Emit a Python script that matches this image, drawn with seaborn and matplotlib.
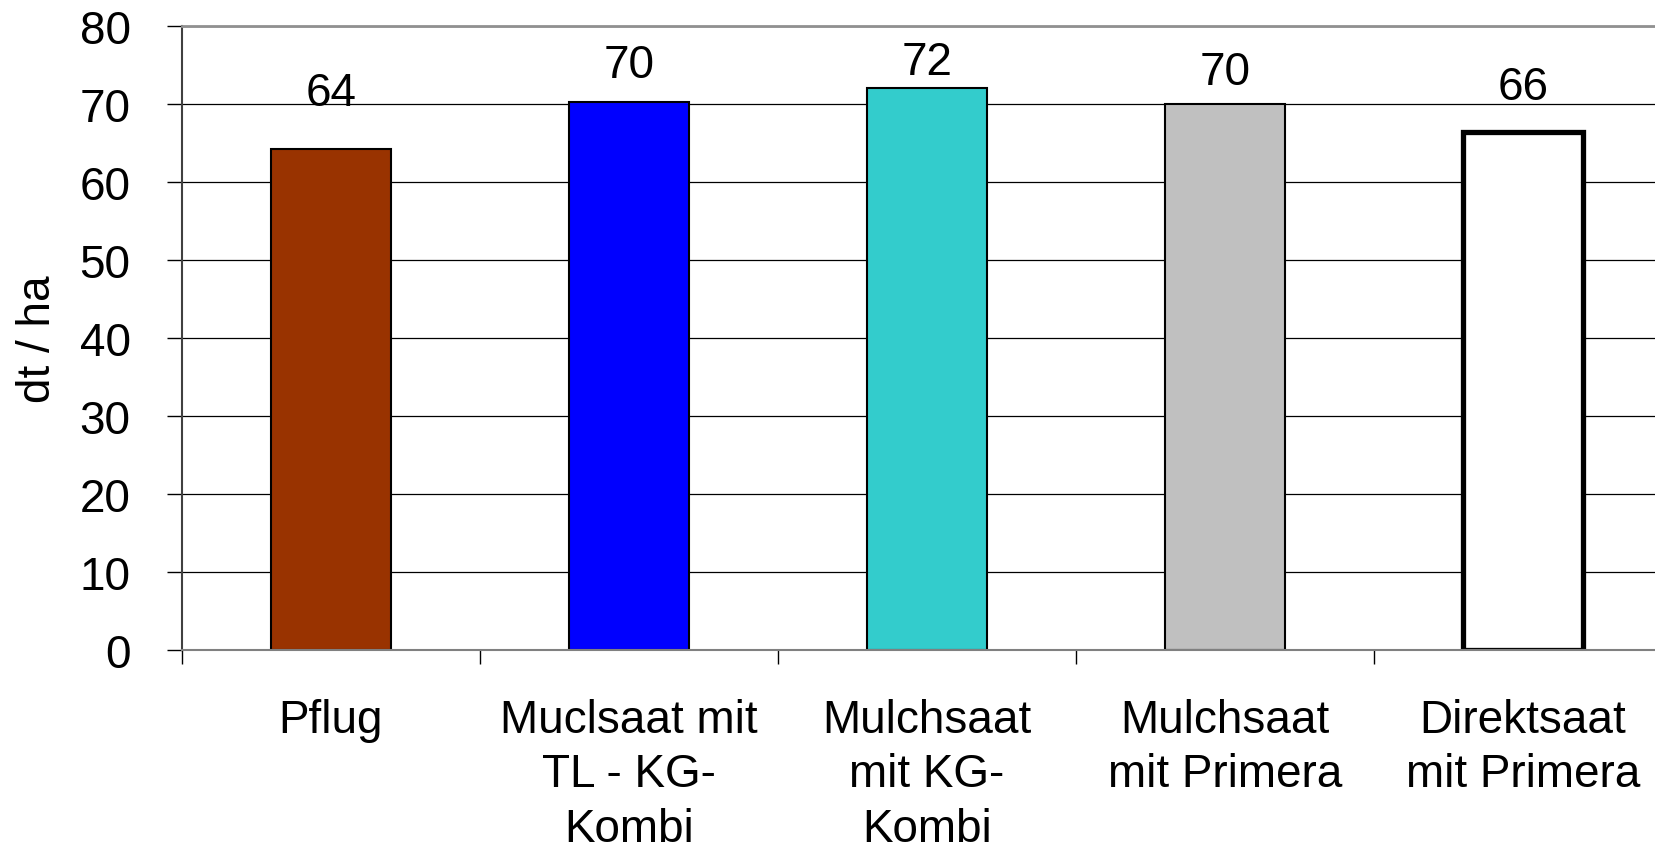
import matplotlib
matplotlib.use("Agg")
import matplotlib.pyplot as plt
import seaborn as sns
import pandas as pd

categories = ["Pflug", "Muclsaat mit\nTL - KG-\nKombi", "Mulchsaat\nmit KG-\nKombi",
              "Mulchsaat\nmit Primera", "Direktsaat\nmit Primera"]
values = [64.2, 70.3, 72.1, 70.0, 66.4]
value_labels = ["64", "70", "72", "70", "66"]
bar_colors = ["#993300", "#0000FF", "#33CCCC", "#C0C0C0", "#FFFFFF"]
y_ticks = [0, 10, 20, 30, 40, 50, 60, 70, 80]
# how far above the bar each value label sits (data units)
label_offsets = [5.7, 3.2, 1.8, 2.5, 4.3]

sns.set_style("white")
plt.rcParams["font.family"] = ["Liberation Sans", "DejaVu Sans"]
plt.rcParams["text.color"] = "black"
plt.rcParams["xtick.color"] = "black"
plt.rcParams["ytick.color"] = "black"
plt.rcParams["axes.labelcolor"] = "black"

df = pd.DataFrame({"cat": categories, "val": values})

fig = plt.figure(figsize=(16.56, 8.53), dpi=100)
ax = fig.add_axes([182 / 1656, 1 - 651 / 853, 1490 / 1656, 624 / 853])

sns.barplot(data=df, x="cat", y="val", hue="cat", palette=bar_colors, legend=False,
            width=0.4, edgecolor="black", linewidth=1.5, saturation=1, ax=ax)
ax.patches[-1].set_linewidth(3.8)

for i, (v, lab, off) in enumerate(zip(values, value_labels, label_offsets)):
    ax.text(i, v + off, lab, ha="center", va="baseline", fontsize=33, color="black")

ax.set_xlim(-0.5, len(categories) - 0.5)
ax.set_ylim(0, 80)
ax.set_yticks(y_ticks)
ax.set_yticklabels([str(t) for t in y_ticks])
ax.tick_params(axis="y", direction="out", length=11, width=1, color="black",
               labelcolor="black", labelsize=33, pad=26, left=True)

# boundary ticks on the x axis, labels in between
ax.set_xticks([i - 0.5 for i in range(len(categories) + 1)])
ax.set_xticklabels([""] * (len(categories) + 1))
ax.set_xticks(range(len(categories)), minor=True)
ax.set_xticklabels(categories, minor=True, fontsize=33, linespacing=1.31)
ax.tick_params(axis="x", which="major", direction="out", length=10, width=1, color="black", bottom=True)
ax.tick_params(axis="x", which="minor", length=0, pad=34.5, labelcolor="black")

ax.yaxis.grid(True, color="black", linewidth=0.9)
ax.set_axisbelow(True)

ax.set_xlabel("")
ax.set_ylabel("dt / ha", fontsize=33, labelpad=14, color="black")

for side in ["top", "right", "bottom", "left"]:
    ax.spines[side].set_visible(True)
ax.spines["left"].set_color("#404040")
ax.spines["left"].set_linewidth(1.5)
ax.spines["bottom"].set_color("#808080")
ax.spines["bottom"].set_linewidth(1.5)
ax.spines["top"].set_color("#909090")
ax.spines["top"].set_linewidth(2)
ax.spines["right"].set_color("#909090")

fig.savefig("out.png", dpi=100)
